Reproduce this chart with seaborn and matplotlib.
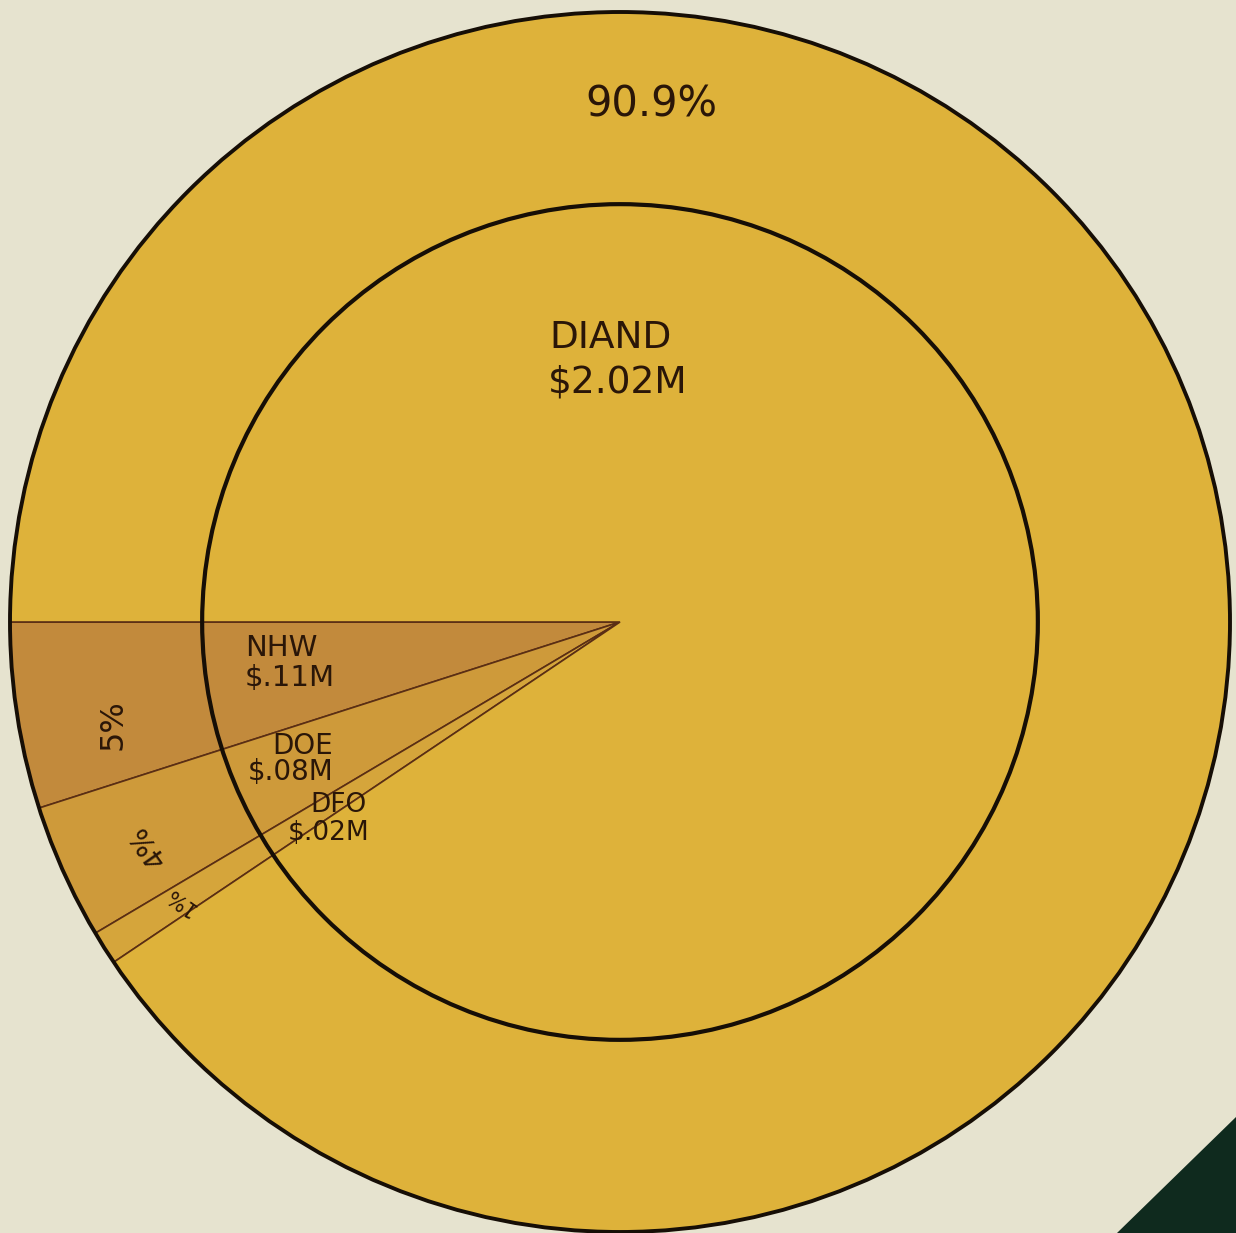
import matplotlib
matplotlib.use("Agg")
import matplotlib.pyplot as plt
import seaborn as sns
from matplotlib.patches import Circle, Polygon

# Données (en millions de $)
departments = ["NHW", "DOE", "DFO", "DIAND"]
amounts = [0.11, 0.08, 0.02, 2.02]
amount_labels = ["$.11M", "$.08M", "$.02M", "$2.02M"]
pct_labels = ["5%", "4%", "1%", "90.9%"]

# Couleurs
bg = "#E6E3CF"
wedge_colors = ["#C28A3C", "#CE9A3A", "#D5A53B", "#DEB23A"]
ink = "#2A1608"

sns.set_theme(style="white")
plt.rcParams["font.family"] = ["DejaVu Sans"]

fig = plt.figure(figsize=(12.36, 12.33), dpi=100, facecolor=bg)
ax = fig.add_axes([0, 0, 1, 1])
ax.set_facecolor(bg)

# Camembert principal
wedges, _ = ax.pie(amounts, colors=wedge_colors, startangle=180,
                   counterclock=True, radius=1,
                   wedgeprops=dict(edgecolor="#5A2E14", linewidth=1.2))

# Cercles extérieur et intérieur
ax.add_patch(Circle((0, 0), 1.0, fill=False, edgecolor="#160E06", lw=2.8))
ax.add_patch(Circle((0, 0), 0.685, fill=False, edgecolor="#160E06", lw=3.0))

# Textes
ax.text(0.052, 0.848, pct_labels[3], ha="center", va="center",
        fontsize=30, color=ink)
ax.text(-0.115, 0.465, departments[3], ha="left", va="center",
        fontsize=27, color=ink)
ax.text(-0.118, 0.393, amount_labels[3], ha="left", va="center",
        fontsize=27, color=ink)

ax.text(-0.615, -0.043, departments[0], ha="left", va="center",
        fontsize=21, color=ink)
ax.text(-0.615, -0.092, amount_labels[0], ha="left", va="center",
        fontsize=21, color=ink)
ax.text(-0.570, -0.203, departments[1], ha="left", va="center",
        fontsize=20, color=ink)
ax.text(-0.610, -0.246, amount_labels[1], ha="left", va="center",
        fontsize=20, color=ink)
ax.text(-0.508, -0.300, departments[2], ha="left", va="center",
        fontsize=19, color=ink)
ax.text(-0.544, -0.346, amount_labels[2], ha="left", va="center",
        fontsize=19, color=ink)

ax.text(-0.831, -0.169, pct_labels[0], ha="center", va="center",
        fontsize=23, color=ink, rotation=90)
ax.text(-0.774, -0.366, pct_labels[1], ha="center", va="center",
        fontsize=20, color=ink, rotation=125)
ax.text(-0.721, -0.457, pct_labels[2], ha="center", va="center",
        fontsize=15, color=ink, rotation=145)

# Coin vert (bord de la photo)
fig.patches.append(Polygon([[1117 / 1236, 0], [1.0, 0], [1.0, 116 / 1233]],
                           closed=True, transform=fig.transFigure,
                           facecolor="#0F2A1E", edgecolor="none"))

ax.set_xlim(-620 / 610, 616 / 610)
ax.set_ylim(-611 / 610, 622 / 610)
ax.set_aspect("auto")
ax.axis("off")

fig.savefig("out.png", dpi=100, facecolor=bg)
